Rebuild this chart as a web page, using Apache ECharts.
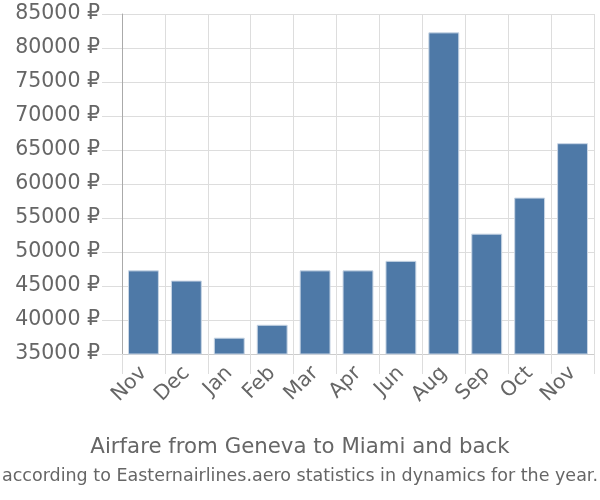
<!DOCTYPE html>
<html><head><meta charset="utf-8">
<script src="https://cdn.jsdelivr.net/npm/echarts@6/dist/echarts.min.js"></script>
<style>html,body{margin:0;padding:0;background:#fff}#c{width:600px;height:500px}</style>
</head><body><div id="c"></div>
<script>
var categories = ["Nov","Dec","Jan","Feb","Mar","Apr","Jun","Aug","Sep","Oct","Nov"];
var prices = [47300, 45800, 37400, 39300, 47300, 47300, 48700, 82300, 52700, 58000, 66000];
var yMin = 35000, yMax = 85000, yStep = 5000;
var titleText = "Airfare from Geneva to Miami and back";
var subtitleText = "according to Easternairlines.aero statistics in dynamics for the year.";
var FONT = 'DejaVu Sans, sans-serif';

var chart = echarts.init(document.getElementById('c'), null, {renderer:'canvas'});
chart.setOption({
  animation: false,
  title: {
    text: titleText,
    subtext: subtitleText,
    left: 'center',
    top: 432,
    itemGap: 9,
    textStyle: {fontFamily: FONT, fontSize: 21.3, fontWeight: 'normal', color: '#666'},
    subtextStyle: {fontFamily: FONT, fontSize: 17.5, color: '#666'}
  },
  grid: {left: 122, right: 6, top: 14, bottom: 146, containLabel: false},
  xAxis: {
    type: 'category',
    data: categories,
    axisLine: {show: true, lineStyle: {color: '#ccc', width: 1}},
    axisTick: {show: true, length: 20, alignWithLabel: false, lineStyle: {color: '#ddd'}},
    splitLine: {show: true, lineStyle: {color: '#ddd'}},
    axisLabel: {rotate: 45, interval: 0, margin: 16, fontSize: 20.5, color: '#666', fontFamily: FONT}
  },
  yAxis: {
    type: 'value',
    min: yMin, max: yMax, interval: yStep,
    axisLine: {show: true, lineStyle: {color: '#aaa', width: 1}},
    axisTick: {show: true, length: 20, lineStyle: {color: '#ddd'}},
    splitLine: {show: true, lineStyle: {color: '#ddd'}},
    axisLabel: {margin: 22, fontSize: 20.5, color: '#666', fontFamily: FONT,
      formatter: function(v){ return v + ' ₽'; }}
  },
  series: [{
    type: 'bar',
    data: prices,
    barCategoryGap: '28%',
    itemStyle: {color: '#4e79a7', borderColor: '#c9d6e5', borderWidth: 1}
  }]
});
</script></body></html>
